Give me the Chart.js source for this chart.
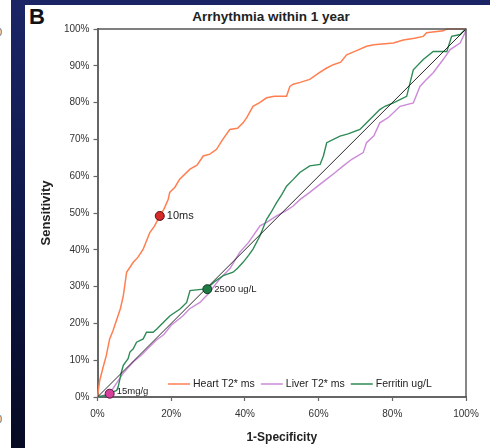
<!DOCTYPE html>
<html>
<head>
<meta charset="utf-8">
<script src="https://cdn.jsdelivr.net/npm/chart.js@4.4.1/dist/chart.umd.min.js"></script>
<style>
  html, body { margin:0; padding:0; background:#fff; }
  #wrap { position:relative; width:490px; height:448px; overflow:hidden; background:#fff; font-family:"Liberation Sans", Arial, sans-serif; }
  #navyLeft { position:absolute; left:11px; top:0; width:14px; height:448px; background:linear-gradient(#1b2566, #0f1849 50%, #060a22); }
  #navyTop { position:absolute; left:11px; top:0; width:479px; height:5px; background:#1b2566; }
  .edge0 { position:absolute; left:-4px; font-size:11px; color:#666; }
  #panelB { position:absolute; left:29px; top:4px; font-weight:bold; font-size:22px; color:#111; }
  #ttl { position:absolute; left:171px; width:200px; top:9px; text-align:center; font-weight:bold; font-size:13.5px; color:#222; white-space:nowrap; }
  canvas { position:absolute; left:0; top:0; }
</style>
</head>
<body>
<div id="wrap">
  <div id="navyLeft"></div>
  <div id="navyTop"></div>
  <span class="edge0" style="top:26px">0</span>
  <span class="edge0" style="top:413px">0</span>
  <div id="panelB">B</div>
  <div id="ttl">Arrhythmia within 1 year</div>
  <canvas id="c" width="490" height="448"></canvas>
</div>
<script>
// ---- data (percent) ----
const xTicks = [0, 20, 40, 60, 80, 100];
const yTicks = [0, 10, 20, 30, 40, 50, 60, 70, 80, 90, 100];
const seriesNames = ['Heart T2* ms', 'Liver T2* ms', 'Ferritin ug/L'];

const heartX = [0,0.6,1.5,2.4,3.3,4.2,5.2,6.2,7,7.9,9.7,11,12.4,14.2,15.5,16.9,18,19.2,19.6,21,22.3,25.1,27,28.7,30.5,32.3,34,35.9,38,39.5,40.5,42.2,44,45.9,48,51.3,52.2,53.1,55,57.6,60,62.2,64,66,67.6,70,73,75,80.3,83,86,88.4,89.3,93.8,94.8,100];
const heartY = [0,4.5,8,11.3,15.8,18,21,24,27.5,33.9,36.6,38,40.2,44.7,46.5,49.2,51,53.7,55.6,57,59.2,61.9,63,65.5,66,67.3,70,72.7,73,74.5,75.9,79,80,81.3,81.7,81.7,84.4,85,85.5,86.3,88,89.4,90.3,91,93,94,95.3,95.7,96.2,97,97.5,98,99,99.5,100,100];

const liverX = [0,3.3,5,7,9.7,12,14,16,18,20,23.2,25,27.8,30,33.2,36,38.6,41,44.1,46,48.6,51,53.1,55,57.6,60,62.2,64.5,66.7,69,72.1,73,75,76.6,79,82.1,85.7,87.5,89,91.1,93.8,95.7,98.4,99.7,100];
const liverY = [0,0.9,3.5,6.5,9.5,11.5,13.5,15.5,17,19.5,22.1,24,25.7,28,32.1,35,39.3,42,46.5,47.5,49.2,50.5,51.9,53.7,55.6,57.5,59.2,61,62.8,64.6,66.4,69.1,71,74.5,76,79,79.9,84.4,86,88.1,91.7,94.4,96.2,98.9,100];

const ferritinX = [0,2.5,4.2,5.2,5.6,6.1,6.5,7,8.3,8.8,9.7,10.6,12.4,13.3,15.1,16.1,18.8,19.7,22.4,24.2,25.1,28.7,30.5,32,34.1,36.8,38,39.5,41,42.2,44.1,45.9,47,48.6,50,51.3,53,54.9,57.6,60.4,61.3,62.2,65.8,68,71.2,73.9,76.6,78,80.3,83.9,85.7,88.4,91.1,94.8,96.1,98.4,99.7,100];
const ferritinY = [0,0.5,1.4,1.8,2.7,5,6.8,8.6,10.4,12.2,13.1,14.9,15.8,17.6,17.6,18.5,21.2,22.1,23.9,25.7,28.9,29.3,30.2,31.5,33,33.9,35,36.6,38.5,40.2,43.8,48.3,50,52.8,55,57.3,59,61,62.8,63.2,65.5,69.1,70.9,71.5,72.7,75.4,78.1,79,79.9,81.7,88.9,91.7,93.9,93.9,98,98.5,99.8,100];

const refX = [0, 100];
const refY = [0, 100];

const cutLabels = ['10ms', '2500 ug/L', '15mg/g'];
const cutX = [16.9, 29.8, 3.3];
const cutY = [49.2, 29.3, 0.9];

// ---- styles ----
const lineColors = ['#ff7f50', '#cc8ad8', '#2e8b57'];
const cutFill = ['#d42a2a', '#1f7a45', '#d6409a'];
const cutBorder = ['#5a1010', '#0d3d20', '#5a1040'];
const cutFont = [11, 9.5, 9.5];

const zip = (xs, ys) => xs.map((x, i) => ({x: x, y: ys[i]}));

const datasets = [];
cutX.forEach((x, i) => {
  datasets.push({
    label: cutLabels[i], data: [{x: x, y: cutY[i]}], showLine: false,
    pointRadius: 4.5, pointBackgroundColor: cutFill[i], pointBorderColor: cutBorder[i], pointBorderWidth: 1,
    clip: 8
  });
});
datasets.push({ label: 'ref', data: zip(refX, refY), borderColor: '#111', borderWidth: 0.9, pointRadius: 0 });
datasets.push({ label: seriesNames[0], data: zip(heartX, heartY), borderColor: lineColors[0], borderWidth: 1.5, pointRadius: 0, clip: 3 });
datasets.push({ label: seriesNames[2], data: zip(ferritinX, ferritinY), borderColor: lineColors[2], borderWidth: 1.4, pointRadius: 0, clip: 3 });
datasets.push({ label: seriesNames[1], data: zip(liverX, liverY), borderColor: lineColors[1], borderWidth: 1.4, pointRadius: 0, clip: 3 });

const FONT = '"Liberation Sans", Arial, sans-serif';

const decor = {
  id: 'decor',
  afterDatasetsDraw(chart) {
    const ctx = chart.ctx, a = chart.chartArea;
    const xs = chart.scales.x, ys = chart.scales.y;
    ctx.save();
    ctx.strokeStyle = '#555'; ctx.lineWidth = 1.4;
    ctx.beginPath();
    ctx.moveTo(a.left, a.top); ctx.lineTo(a.right, a.top); ctx.lineTo(a.right, a.bottom);
    ctx.stroke();
    ctx.fillStyle = '#222'; ctx.textBaseline = 'middle'; ctx.textAlign = 'left';
    cutLabels.forEach((t, i) => {
      ctx.font = cutFont[i] + 'px ' + FONT;
      const px = xs.getPixelForValue(cutX[i]), py = ys.getPixelForValue(cutY[i]);
      ctx.fillText(t, px + 7, py - (i === 2 ? 2 : 0));
    });
    ctx.font = '10.5px ' + FONT;
    let lx = 168; const ly = 384;
    seriesNames.forEach((n, i) => {
      ctx.strokeStyle = lineColors[i]; ctx.lineWidth = 1.5;
      ctx.beginPath(); ctx.moveTo(lx, ly); ctx.lineTo(lx + 22, ly); ctx.stroke();
      ctx.fillStyle = '#222';
      ctx.fillText(n, lx + 25, ly);
      lx += 25 + ctx.measureText(n).width + 6;
    });
    ctx.restore();
  }
};

new Chart(document.getElementById('c'), {
  type: 'scatter',
  data: { datasets: datasets },
  options: {
    responsive: false, animation: false,
    showLine: true,
    layout: { padding: { left: 39, top: 29, right: 24, bottom: 3.6 } },
    elements: { line: { tension: 0 } },
    plugins: { legend: { display: false }, tooltip: { enabled: false }, title: { display: false } },
    scales: {
      x: {
        type: 'linear', min: 0, max: 100,
        afterBuildTicks: s => { s.ticks = xTicks.map(v => ({value: v})); },
        ticks: { callback: v => v + '%', font: { size: 10, family: FONT }, color: '#333', padding: 7, maxRotation: 0 },
        grid: { drawOnChartArea: false, drawTicks: true, tickLength: 4, color: '#666', tickWidth: 1.2 },
        border: { display: true, color: '#666', width: 2 },
        title: { display: true, text: '1-Specificity', font: { size: 12, weight: 'bold', family: FONT }, color: '#222', padding: { top: 3, bottom: 0 } }
      },
      y: {
        type: 'linear', min: 0, max: 100,
        afterBuildTicks: s => { s.ticks = yTicks.map(v => ({value: v})); },
        afterFit: s => { s.width = 58.5; },
        ticks: { callback: v => v + '%', font: { size: 10, family: FONT }, color: '#333', padding: 4 },
        grid: { drawOnChartArea: false, drawTicks: true, tickLength: 4, color: '#666', tickWidth: 1.2 },
        border: { display: true, color: '#666', width: 2 },
        title: { display: true, text: 'Sensitivity', font: { size: 13, weight: 'bold', family: FONT }, color: '#222', padding: { top: 0, bottom: 0 } }
      }
    }
  },
  plugins: [decor]
});
</script>
</body>
</html>
